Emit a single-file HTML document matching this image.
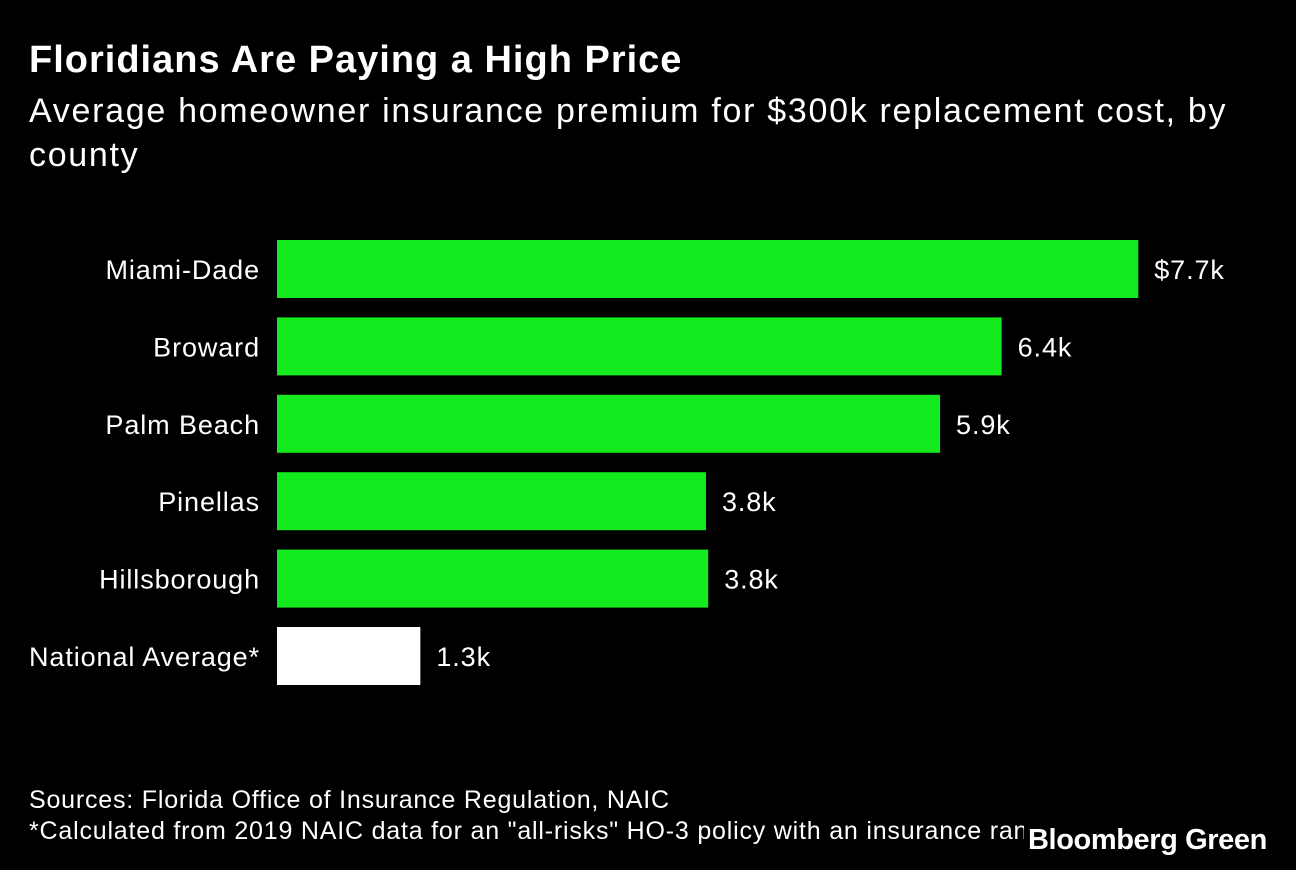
<!DOCTYPE html>
<html><head><meta charset="utf-8"><style>
body{margin:0;width:1296px;height:870px;background:#000;overflow:hidden;font-family:"Liberation Sans",sans-serif;color:#fff;position:relative}
.t{position:absolute;white-space:nowrap}
</style></head><body>
<div class="t" style="left:29px;top:39px;font-size:38px;font-weight:bold;letter-spacing:1px">Floridians Are Paying a High Price</div>
<div class="t" style="left:29px;top:89px;font-size:34px;line-height:44px;letter-spacing:1.7px;white-space:normal;width:1250px">Average homeowner insurance premium for $300k replacement cost, by county</div>
<svg id="chart" width="1296" height="870" style="position:absolute;left:0;top:0"></svg>
<div class="t" style="left:29px;top:786px;font-size:25px;letter-spacing:0.8px">Sources: Florida Office of Insurance Regulation, NAIC</div>
<div class="t" style="left:29px;top:817px;font-size:25px;letter-spacing:0.8px">*Calculated from 2019 NAIC data for an "all-risks" HO-3 policy with an insurance range</div>
<div class="t" style="left:1024px;top:820px;padding:0 4px;background:#000;font-size:29px;font-weight:bold;letter-spacing:-0.4px;line-height:40px;height:50px">Bloomberg Green</div>
<script>
const categories=["Miami-Dade","Broward","Palm Beach","Pinellas","Hillsborough","National Average*"];
const values=[7.69,6.47,5.92,3.83,3.85,1.28];
const valueLabels=["$7.7k","6.4k","5.9k","3.8k","3.8k","1.3k"];
const colors=["#14eb1f","#14eb1f","#14eb1f","#14eb1f","#14eb1f","#ffffff"];
const svg=document.getElementById('chart');
const NS="http://www.w3.org/2000/svg";
const x0=277,scale=112;
function xs(v){return x0+v*scale;}
function ys(i){return 240+i*77.4;}
const bh=58;
categories.forEach((c,i)=>{
  const r=document.createElementNS(NS,'rect');
  r.setAttribute('x',x0);r.setAttribute('y',ys(i));
  r.setAttribute('width',xs(values[i])-x0);r.setAttribute('height',bh);
  r.setAttribute('fill',colors[i]);
  
  
  svg.appendChild(r);
  const l=document.createElementNS(NS,'text');
  l.setAttribute('x',260);l.setAttribute('y',ys(i)+bh/2+10);
  l.setAttribute('text-anchor','end');l.setAttribute('fill','#fff');
  l.setAttribute('font-size','27');l.setAttribute('letter-spacing','0.9');l.setAttribute('font-family','Liberation Sans, sans-serif');
  l.textContent=c;
  
  
  svg.appendChild(l);
  const v=document.createElementNS(NS,'text');
  v.setAttribute('x',xs(values[i])+16);v.setAttribute('y',ys(i)+bh/2+10);
  v.setAttribute('fill','#fff');
  v.setAttribute('font-size','27');v.setAttribute('letter-spacing','0.9');v.setAttribute('font-family','Liberation Sans, sans-serif');
  v.textContent=valueLabels[i];
  
  
  svg.appendChild(v);
});
</script>
</body></html>
